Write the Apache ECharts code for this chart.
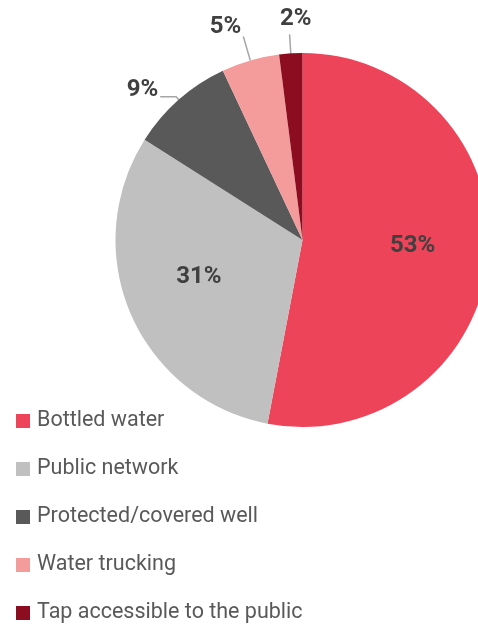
<!DOCTYPE html>
<html>
<head>
<meta charset="utf-8">
<script src="https://cdn.jsdelivr.net/npm/echarts@6/dist/echarts.min.js"></script>
<style>
  html, body { margin: 0; padding: 0; background: #ffffff; }
  #chart { width: 478px; height: 628px; }
</style>
</head>
<body>
<div id="chart"></div>
<script>
// Main source of drinking water (% of households)
const categories = [
  'Bottled water',
  'Public network',
  'Protected/covered well',
  'Water trucking',
  'Tap accessible to the public'
];
const shares = [53, 31, 9, 5, 2];
const sliceColors = ['#EE4459', '#BFC0BF', '#595959', '#F49C9C', '#8C0D1F'];

const FONT = 'Roboto, "Liberation Sans", Arial, sans-serif';

// slices 0-1 carry their label inside, the small ones get a leader line
const insideLabel = [true, true, false, false, false];
const leader = [null, null, [4, 16], [25, 0], [19, 0]];
const nudge = [[14, -3], [-15, -1], [3, -7], [3, -9], [27, -15]];

const data = categories.map((name, i) => ({
  name,
  value: shares[i],
  itemStyle: { color: sliceColors[i] },
  label: { position: insideLabel[i] ? 'inside' : 'outside' },
  labelLine: insideLabel[i]
    ? { show: false }
    : { show: true, length: leader[i][0], length2: leader[i][1] }
}));

const chart = echarts.init(document.getElementById('chart'), null, { renderer: 'canvas' });
chart.setOption({
  animation: false,
  legend: {
    orient: 'vertical',
    left: 16,
    top: 408,
    height: 220,
    padding: 0,
    icon: 'rect',
    itemWidth: 14,
    itemHeight: 14,
    itemGap: 22,
    selectedMode: false,
    data: categories,
    textStyle: {
      fontFamily: FONT,
      fontSize: 21.5,
      lineHeight: 26,
      color: '#595959',
      padding: [0, 0, 0, 2]
    }
  },
  series: [{
    type: 'pie',
    center: [302.5, 240],
    radius: [0, 187],
    startAngle: 90,
    clockwise: true,
    avoidLabelOverlap: false,
    silent: true,
    data,
    label: {
      show: true,
      formatter: '{c}%',
      fontFamily: FONT,
      fontWeight: 'bold',
      fontSize: 24,
      color: '#404040'
    },
    labelLine: {
      lineStyle: { color: '#A6A6A6', width: 1.5 },
      smooth: false
    },
    labelLayout: function (p) {
      const d = nudge[p.dataIndex];
      const out = { dx: d[0], dy: d[1] };
      if (p.labelLinePoints) out.labelLinePoints = p.labelLinePoints;
      return out;
    }
  }]
});
</script>
</body>
</html>
